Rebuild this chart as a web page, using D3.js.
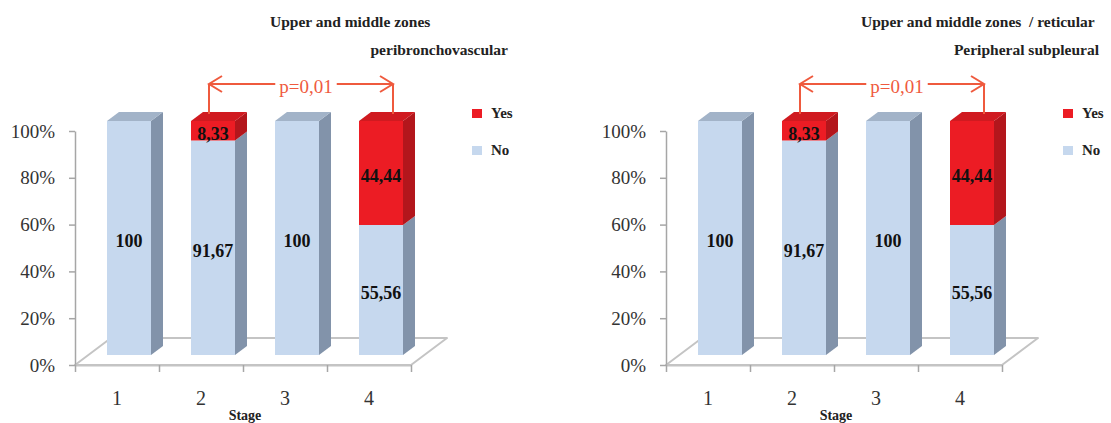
<!DOCTYPE html>
<html>
<head>
<meta charset="utf-8">
<script src="https://cdn.jsdelivr.net/npm/d3@7"></script>
<style>
  html, body { margin: 0; padding: 0; background: #ffffff; }
  svg { display: block; }
  text { font-family: "Liberation Serif", "Times New Roman", serif; }
</style>
</head>
<body>
<svg id="chart" width="1111" height="423"></svg>
<script>
// ---- data ----
const stages = ["1", "2", "3", "4"];
const noValues = [100, 91.67, 100, 55.56];
const yesValues = [0, 8.33, 0, 44.44];
const yTicks = [0, 20, 40, 60, 80, 100];
const seriesNames = ["Yes", "No"];
const pLabel = "p=0,01";
const bracketStages = ["2", "4"];
const titlesLeft = ["Upper and middle zones", "peribronchovascular"];
const titlesRight = ["Upper and middle zones  / reticular", "Peripheral subpleural"];
const axisTitle = "Stage";

// ---- styling ----
const colors = {
  no:  { front: "#c6d8ee", top: "#a2b3c8", side: "#8293aa" },
  yes: { front: "#ec1c24", top: "#d01a20", side: "#b3161c" },
  axis: "#a6a6a6", floor: "#c4c4c4", text: "#333333", label: "#111111",
  bracket: "#ef5a3e"
};

const svg = d3.select("#chart");

// label format: "91,67" / "100"
const fmt = v => Number.isInteger(v) ? String(v) : v.toFixed(2).replace(".", ",");

function drawPanel(x0, titles) {
  const g = svg.append("g").attr("transform", `translate(${x0},0)`);
  const plotW = 336;
  const y = d3.scaleLinear().domain([0, 100]).range([365, 131]);
  const x = d3.scaleBand().domain(stages).range([0, plotW]);
  const xPos = d3.scaleLinear().domain([0, stages.length]).range([0, plotW]);

  const floorDepth = { x: 36, y: -27 };   // depth of the floor plane
  const shift = { x: 12, y: -10 };         // bars sit partway into the floor
  const barDepth = { x: 12, y: -9 };       // thickness of each bar
  const barW = 44;

  // floor
  const y0 = y(0);
  g.append("polygon")
    .attr("points", [
      [0, y0], [plotW, y0],
      [plotW + floorDepth.x, y0 + floorDepth.y], [floorDepth.x, y0 + floorDepth.y]
    ].map(p => p.join(",")).join(" "))
    .attr("fill", "#ffffff")
    .attr("stroke", colors.floor)
    .attr("stroke-width", 2)
    .attr("stroke-linejoin", "round");

  // y axis
  const yAxis = g.append("g")
    .call(d3.axisLeft(y).tickValues(yTicks).tickFormat(d => d + "%").tickSize(6).tickSizeOuter(0).tickPadding(14));
  yAxis.select(".domain").attr("stroke", colors.axis).attr("stroke-width", 1.5);
  yAxis.selectAll(".tick line").attr("stroke", colors.axis).attr("stroke-width", 1.5);
  yAxis.selectAll(".tick text")
    .attr("fill", colors.text)
    .style("font-family", '"Liberation Serif", serif')
    .style("font-size", "19px");

  // x axis: boundary ticks, centered stage labels
  const xAxis = g.append("g").attr("transform", `translate(0,${y0})`)
    .call(d3.axisBottom(xPos).ticks(stages.length).tickFormat("").tickSize(7).tickSizeOuter(0));
  xAxis.select(".domain").attr("stroke", colors.floor).attr("stroke-width", 2);
  xAxis.selectAll(".tick line").attr("stroke", colors.axis).attr("stroke-width", 1.5);

  g.selectAll(".stage-label")
    .data(stages)
    .join("text")
    .attr("class", "stage-label")
    .attr("x", d => x(d) + x.bandwidth() / 2)
    .attr("y", 405)
    .attr("text-anchor", "middle")
    .attr("fill", colors.text)
    .style("font-size", "20px")
    .text(d => d);

  g.append("text")
    .attr("x", 170).attr("y", 420)
    .attr("text-anchor", "middle")
    .attr("fill", "#222")
    .style("font-size", "14px").style("font-weight", "bold")
    .text(axisTitle);

  // bars
  const barData = stages.map((s, i) => {
    const left = x(s) + x.bandwidth() / 2 + shift.x - barW / 2;
    const segs = [
      { key: "no", from: 0, to: noValues[i], value: noValues[i] },
      { key: "yes", from: noValues[i], to: noValues[i] + yesValues[i], value: yesValues[i] }
    ].filter(d => d.value > 0);
    return { stage: s, left, segs };
  });

  const bars = g.selectAll(".bar").data(barData).join("g").attr("class", "bar");

  bars.each(function (b) {
    const bg = d3.select(this);
    const L = b.left, R = b.left + barW;
    b.segs.forEach((sg, k) => {
      const yt = y(sg.to) + shift.y;
      const yb = y(sg.from) + shift.y;
      const c = colors[sg.key];
      // side face
      bg.append("polygon")
        .attr("points", [[R, yb], [R, yt], [R + barDepth.x, yt + barDepth.y], [R + barDepth.x, yb + barDepth.y]]
          .map(p => p.join(",")).join(" "))
        .attr("fill", c.side);
      // front face
      bg.append("rect")
        .attr("x", L).attr("y", yt)
        .attr("width", barW).attr("height", yb - yt)
        .attr("fill", c.front);
      // top face on the uppermost segment
      if (k === b.segs.length - 1) {
        bg.append("polygon")
          .attr("points", [[L, yt], [R, yt], [R + barDepth.x, yt + barDepth.y], [L + barDepth.x, yt + barDepth.y]]
            .map(p => p.join(",")).join(" "))
          .attr("fill", c.top);
      }
      // value label
      bg.append("text")
        .attr("x", L + barW / 2)
        .attr("y", (yt + yb) / 2 + 3)
        .attr("dy", "0.35em")
        .attr("text-anchor", "middle")
        .attr("fill", colors.label)
        .style("font-size", "18px").style("font-weight", "bold")
        .text(fmt(sg.value));
    });
  });

  // significance bracket between stage 2 and stage 4
  const nudge = [-4, 12];
  const bx = bracketStages.map((s, i) => x(s) + x.bandwidth() / 2 + shift.x + nudge[i]);
  const by = 84;
  const topOf = s => { const i = stages.indexOf(s); return y(noValues[i] + yesValues[i]) + shift.y + barDepth.y; };
  const br = g.append("g").attr("stroke", colors.bracket).attr("stroke-width", 2).attr("fill", "none");
  const tx = (bx[0] + bx[1]) / 2 + 5;
  const pText = g.append("text")
    .attr("x", tx).attr("y", by + 9)
    .attr("text-anchor", "middle")
    .attr("fill", colors.bracket)
    .style("font-size", "19px")
    .text(pLabel);
  const tw = pText.node().getComputedTextLength();
  br.append("line").attr("x1", bx[0]).attr("x2", tx - tw / 2 - 4).attr("y1", by).attr("y2", by);
  br.append("line").attr("x1", tx + tw / 2 + 4).attr("x2", bx[1]).attr("y1", by).attr("y2", by);
  bracketStages.forEach((s, i) => {
    br.append("line").attr("x1", bx[i]).attr("x2", bx[i]).attr("y1", by).attr("y2", topOf(s) + 2);
  });
  // open arrowheads
  br.append("path").attr("d", `M${bx[0] + 13},${by - 8} L${bx[0]},${by} L${bx[0] + 13},${by + 8}`);
  br.append("path").attr("d", `M${bx[1] - 13},${by - 8} L${bx[1]},${by} L${bx[1] - 13},${by + 8}`);

  // legend
  const leg = g.append("g").attr("transform", "translate(397,0)");
  const legY = [109, 146];
  seriesNames.forEach((name, i) => {
    const key = name === "Yes" ? "yes" : "no";
    leg.append("rect")
      .attr("x", 0).attr("y", legY[i])
      .attr("width", 10).attr("height", 9)
      .attr("fill", colors[key].front);
    leg.append("text")
      .attr("x", 19).attr("y", legY[i] + 9)
      .attr("fill", "#222")
      .style("font-size", "15px").style("font-weight", "bold")
      .text(name);
  });

  // titles
  g.append("text")
    .attr("x", 195).attr("y", 27)
    .attr("fill", "#222")
    .style("font-size", "15.5px").style("font-weight", "bold")
    .style("white-space", "pre")
    .text(titles[0]);
  g.append("text")
    .attr("x", 433).attr("y", 55)
    .attr("text-anchor", "end")
    .attr("fill", "#222")
    .style("font-size", "15.5px").style("font-weight", "bold")
    .text(titles[1]);
}

drawPanel(75, titlesLeft);
drawPanel(666, titlesRight);
</script>
</body>
</html>
